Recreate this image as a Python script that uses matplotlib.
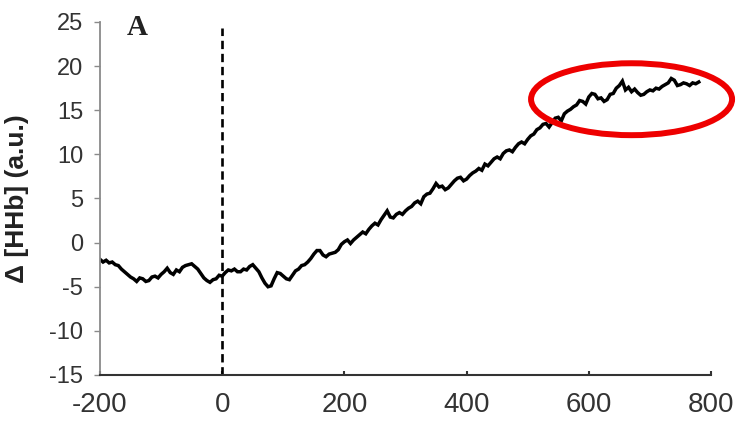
import matplotlib
matplotlib.use("Agg")
import matplotlib.pyplot as plt
from matplotlib.patches import Ellipse

plt.rcParams['font.family'] = ['Liberation Sans', 'DejaVu Sans']
plt.rcParams['lines.scale_dashes'] = False
plt.rcParams['axes.unicode_minus'] = False

# time (s) relative to onset, sampled every 5 s
time_s = list(range(-200, 785, 5))

# deoxy-haemoglobin change (a.u.)
hhb = [
    -1.9, -2.2, -2.0, -2.3, -2.2, -2.5, -2.6, -3.0, -3.3, -3.6,
    -3.9, -4.1, -4.4, -4.0, -4.1, -4.4, -4.3, -3.9, -3.8, -4.0,
    -3.6, -3.3, -2.9, -3.4, -3.6, -3.1, -3.3, -2.8, -2.6, -2.5,
    -2.4, -2.7, -3.0, -3.5, -4.0, -4.3, -4.5, -4.2, -4.1, -3.7,
    -3.8, -3.4, -3.1, -3.2, -3.0, -3.3, -3.3, -3.0, -3.1, -2.7,
    -2.5, -2.9, -3.3, -4.0, -4.6, -5.0, -4.9, -4.1, -3.4, -3.5,
    -3.8, -4.1, -4.2, -3.7, -3.2, -3.0, -2.6, -2.5, -2.2, -1.8,
    -1.3, -0.9, -0.9, -1.4, -1.6, -1.3, -1.2, -1.1, -0.8, -0.2,
    0.1, 0.3, -0.1, 0.3, 0.6, 0.9, 1.2, 1.0, 1.5, 1.9,
    2.2, 2.0, 2.6, 3.1, 3.6, 2.9, 2.8, 3.2, 3.4, 3.2,
    3.6, 3.9, 4.1, 4.5, 4.7, 4.4, 5.2, 5.5, 5.6, 6.1,
    6.7, 6.3, 6.4, 6.0, 6.2, 6.6, 7.0, 7.3, 7.4, 7.0,
    7.2, 7.6, 7.9, 8.1, 8.4, 8.2, 8.9, 8.7, 9.1, 9.5,
    9.7, 9.5, 10.1, 10.4, 10.5, 10.3, 10.8, 11.2, 11.4, 11.2,
    11.7, 12.1, 12.3, 12.8, 13.0, 13.4, 13.5, 13.1, 13.6, 14.1,
    14.2, 13.8, 14.6, 14.9, 15.1, 15.4, 15.6, 16.1, 16.0, 15.7,
    16.5, 16.9, 16.8, 16.3, 16.4, 16.0, 16.2, 16.8, 16.9, 17.5,
    17.8, 18.3, 17.3, 17.6, 17.1, 17.4, 17.0, 16.7, 16.8, 17.1,
    17.3, 17.2, 17.5, 17.4, 17.7, 17.9, 18.1, 18.6, 18.4, 17.8,
    17.9, 18.1, 18.0, 17.8, 18.1, 18.0, 18.2,
]

x_ticks = [-200, 0, 200, 400, 600, 800]
y_ticks = [-15, -10, -5, 0, 5, 10, 15, 20, 25]

fig = plt.figure(figsize=(7.38, 4.23), dpi=100)
ax = fig.add_axes([0.1355, 0.1135, 0.8279, 0.8345])

ax.plot(time_s, hhb, color='black', lw=2.5, solid_joinstyle='miter')
ax.plot([0, 0], [-15, 24.3], color='black', lw=1.9, dashes=(6.0, 3.4))

# highlight the plateau
ax.add_patch(Ellipse((670, 16.25), 329, 8.15, fill=False, edgecolor='#ee0000',
                     lw=4.3, clip_on=False, zorder=5))

ax.set_xlim(-200, 800)
ax.set_ylim(-15, 25)
ax.set_xticks(x_ticks)
ax.set_yticks(y_ticks)

for side in ['top', 'right']:
    ax.spines[side].set_visible(False)
ax.spines['left'].set_color('#8a8a8a')
ax.spines['left'].set_linewidth(1.3)
ax.spines['bottom'].set_color('#333333')
ax.spines['bottom'].set_linewidth(1.5)

ax.tick_params(axis='y', direction='out', length=4, width=1, color='#8a8a8a',
               labelsize=17, labelcolor='#333333', pad=8)
ax.tick_params(axis='x', direction='in', length=3, width=1.5, color='#333333',
               labelsize=20, labelcolor='#333333', pad=12)

ax.set_ylabel('Δ [HHb] (a.u.)', fontsize=19, fontweight='bold', color='#222222')
ax.yaxis.set_label_coords(-0.117, 0.5)

ax.text(0.061, 0.985, 'A', transform=ax.transAxes, fontsize=21, fontweight='bold',
        family='Liberation Serif', ha='center', va='center', color='#222222')

fig.savefig('out.png', dpi=100)
